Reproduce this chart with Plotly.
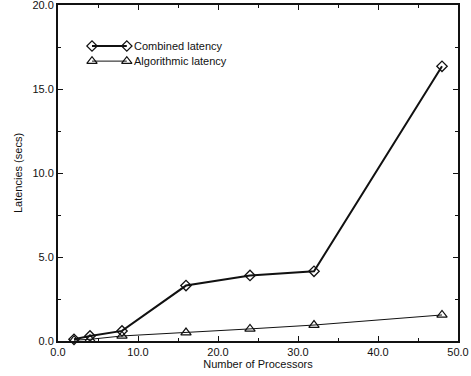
import plotly.graph_objects as go

# Processor counts and measured latencies (seconds)
processors = [2, 4, 8, 16, 24, 32, 48]
combined_latency = [0.1, 0.3, 0.6, 3.3, 3.9, 4.15, 16.35]
algorithmic_latency = [0.05, 0.1, 0.3, 0.5, 0.72, 0.95, 1.55]

x_ticks = [0, 10, 20, 30, 40, 50]
x_tick_text = ["0.0", "10.0", "20.0", "30.0", "40.0", "50.0"]
y_ticks = [0, 5, 10, 15, 20]
y_tick_text = ["0.0", "5.0", "10.0", "15.0", "20.0"]

series_names = ["Combined latency", "Algorithmic latency"]

FONT = "Liberation Sans, Arial, sans-serif"
INK = "#111111"

fig = go.Figure()

fig.add_trace(go.Scatter(
    x=processors, y=combined_latency, mode="lines+markers",
    line=dict(color=INK, width=2),
    marker=dict(symbol="diamond-open", size=8, color=INK, line=dict(width=1.3)),
    showlegend=False, cliponaxis=False,
))
fig.add_trace(go.Scatter(
    x=processors, y=algorithmic_latency, mode="lines+markers",
    line=dict(color=INK, width=1),
    marker=dict(symbol="triangle-up-open", size=9, color=INK, line=dict(width=1.2)),
    showlegend=False, cliponaxis=False,
))

# Hand-drawn key: marker-line-marker glyphs on an overlay axis in unit coordinates
key_rows = [0.878, 0.833]
key_styles = [
    dict(line=dict(color=INK, width=2),
         marker=dict(symbol="diamond-open", size=8, color=INK, line=dict(width=1.2))),
    dict(line=dict(color=INK, width=1),
         marker=dict(symbol="triangle-up-open", size=9, color=INK, line=dict(width=1.2))),
]
for row, style, name in zip(key_rows, key_styles, series_names):
    fig.add_trace(go.Scatter(
        x=[0.085, 0.172], y=[row, row], mode="lines+markers",
        xaxis="x2", yaxis="y2", showlegend=False, hoverinfo="skip", **style,
    ))
    fig.add_annotation(
        x=0.184, y=row, xref="x2", yref="y2", text=name, showarrow=False,
        xanchor="left", yanchor="middle",
        font=dict(family=FONT, size=11, color=INK),
    )

axis_common = dict(
    showgrid=False, zeroline=False, showline=True, linecolor=INK, linewidth=2,
    mirror="ticks", ticks="inside", ticklen=5, tickwidth=1, tickcolor=INK,
    tickfont=dict(family=FONT, size=11, color=INK),
    automargin=False, ticklabeloverflow="allow",
)

fig.update_layout(
    width=471, height=376,
    margin=dict(l=58, r=13, t=5, b=35),
    paper_bgcolor="white", plot_bgcolor="white",
    xaxis=dict(
        range=[0, 50], tickvals=x_ticks, ticktext=x_tick_text,
        minor=dict(ticks="inside", dtick=5, ticklen=3, tickcolor=INK),
        title=dict(text="Number of Processors", standoff=2,
                   font=dict(family=FONT, size=11, color=INK)),
        **axis_common,
    ),
    yaxis=dict(
        range=[0, 20], tickvals=y_ticks, ticktext=y_tick_text,
        minor=dict(ticks="inside", dtick=2.5, ticklen=3, tickcolor=INK),
        title=dict(text="Latencies (secs)", standoff=8,
                   font=dict(family=FONT, size=11, color=INK)),
        **axis_common,
    ),
    xaxis2=dict(range=[0, 1], overlaying="x", visible=False, fixedrange=True),
    yaxis2=dict(range=[0, 1], overlaying="y", visible=False, fixedrange=True),
)

fig.write_html("out.html")
